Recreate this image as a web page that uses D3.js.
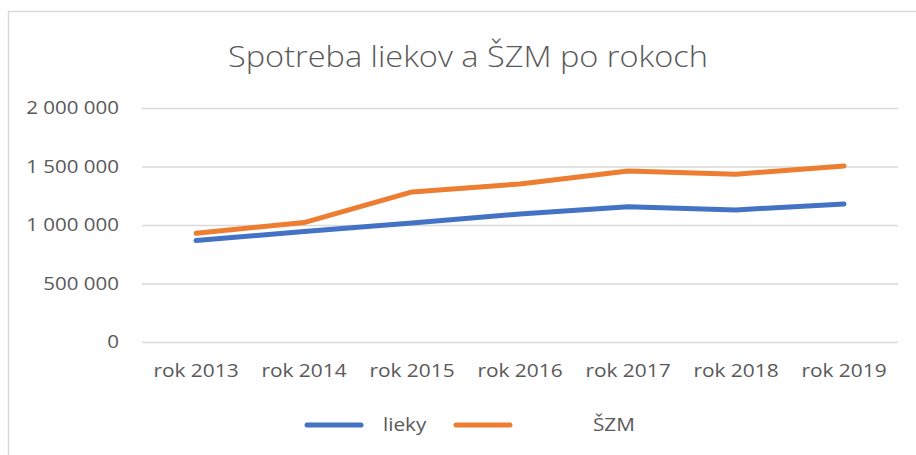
<!DOCTYPE html>
<html>
<head>
<meta charset="utf-8" />
<script src="https://d3js.org/d3.v7.min.js"></script>
<style>
  body { margin: 0; background: #fff; }
  text { font-family: "Open Sans", "Noto Sans", sans-serif; fill: #595959; }
</style>
</head>
<body>
<div id="chart"></div>
<script>
// values
var years = ["rok 2013", "rok 2014", "rok 2015", "rok 2016", "rok 2017", "rok 2018", "rok 2019"];
var lieky = [867000, 944000, 1018000, 1095000, 1157000, 1129000, 1180000];
var szm = [930000, 1021000, 1283000, 1351000, 1462000, 1434000, 1505000];
var yTicks = [0, 500000, 1000000, 1500000, 2000000];
var seriesNames = ["lieky", "ŠZM"];
var colors = ["#4472C4", "#ED7D31"];

var W = 916, H = 455;
var margin = {top: 108, right: 18, bottom: 113, left: 142},
    width = W - margin.left - margin.right,
    height = H - margin.top - margin.bottom;

var svg = d3.select("#chart").append("svg")
    .attr("width", W)
    .attr("height", H);

// stretch text a bit, the original font (Calibri) is narrower and taller
function widen(sel, f) {
  sel.each(function() {
    var w = this.getComputedTextLength();
    d3.select(this).attr("textLength", w * f).attr("lengthAdjust", "spacingAndGlyphs");
  });
}

// chart frame
svg.append("path")
    .attr("d", "M8.5," + H + "V11.5H" + W)
    .attr("fill", "none")
    .attr("stroke", "#d9d9d9")
    .attr("stroke-width", 1.5);

svg.append("text")
    .attr("x", 468)
    .attr("y", 67)
    .attr("text-anchor", "middle")
    .attr("textLength", 480)
    .attr("lengthAdjust", "spacingAndGlyphs")
    .style("font-size", "29px")
    .style("font-weight", 300)
    .text("Spotreba liekov a ŠZM po rokoch");

var g = svg.append("g")
    .attr("transform", "translate(" + margin.left + "," + margin.top + ")");

var x = d3.scaleBand().domain(years).range([0, width]);
var y = d3.scaleLinear().domain([0, 2000000]).range([height, 0]);

// gridlines + y labels
var yAxis = g.append("g")
    .call(d3.axisLeft(y).tickValues(yTicks).tickSize(-width).tickPadding(23)
      .tickFormat(function(d) { return d3.format(",")(d).replace(/,/g, " "); }));
yAxis.select(".domain").remove();
yAxis.selectAll("line").attr("stroke", "#d9d9d9").attr("stroke-width", 1.3);
yAxis.selectAll("text").style("font-size", "18px").attr("fill", "#595959");
widen(yAxis.selectAll("text"), 1.14);

var xAxis = g.append("g")
    .attr("transform", "translate(0," + height + ")")
    .call(d3.axisBottom(x).tickSize(0).tickPadding(22));
xAxis.select(".domain").remove();
xAxis.selectAll("text").style("font-size", "18px").attr("fill", "#595959");
widen(xAxis.selectAll("text"), 1.16);

var line = d3.line()
    .x(function(d, i) { return x(years[i]) + x.bandwidth() / 2; })
    .y(function(d) { return y(d); });

[lieky, szm].forEach(function(vals, k) {
  g.append("path")
    .datum(vals)
    .attr("d", line)
    .attr("fill", "none")
    .attr("stroke", colors[k])
    .attr("stroke-width", 5)
    .attr("stroke-linecap", "round")
    .attr("stroke-linejoin", "round");
});

// legend
var legendX = [307, 456], legendTextX = [383, 593];
seriesNames.forEach(function(name, k) {
  svg.append("line")
    .attr("x1", legendX[k]).attr("x2", legendX[k] + 54)
    .attr("y1", 425).attr("y2", 425)
    .attr("stroke", colors[k])
    .attr("stroke-width", 5)
    .attr("stroke-linecap", "round");
  var t = svg.append("text")
    .attr("x", legendTextX[k])
    .attr("y", 431)
    .style("font-size", "18px")
    .text(name);
  widen(t, 1.15);
});
</script>
</body>
</html>
